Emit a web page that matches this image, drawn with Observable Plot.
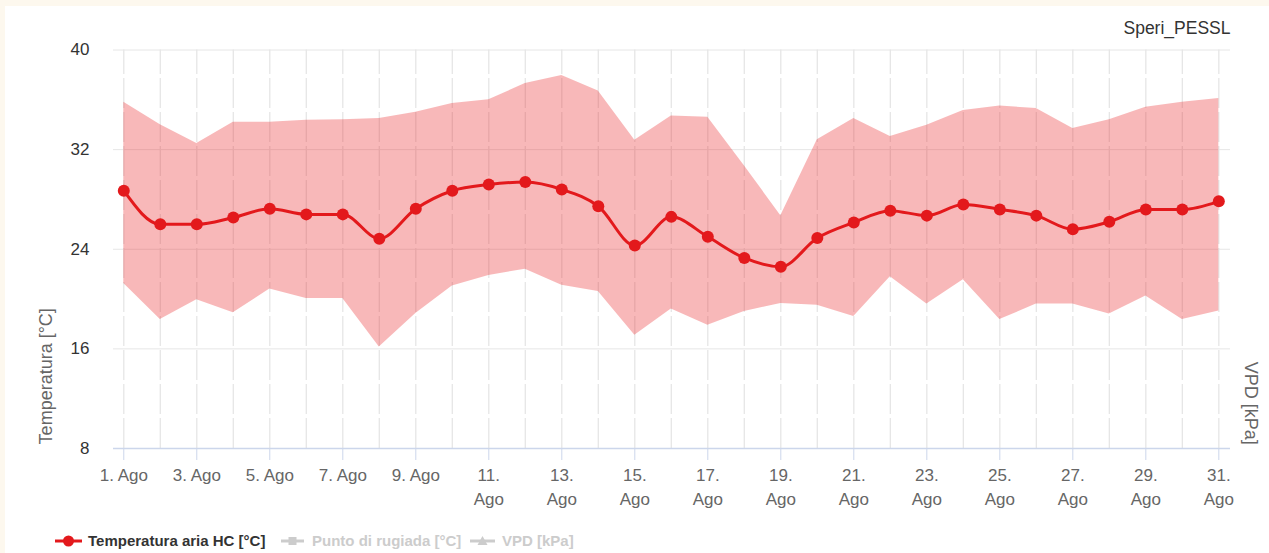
<!DOCTYPE html>
<html>
<head>
<meta charset="utf-8">
<script src="https://cdn.jsdelivr.net/npm/d3@7"></script>
<script src="https://cdn.jsdelivr.net/npm/@observablehq/plot@0.6"></script>
<style>
  html, body { margin: 0; padding: 0; width: 1269px; height: 553px; overflow: hidden; background: #fdf8ee; font-family: "Liberation Sans", Arial, sans-serif; }
  #panel { position: absolute; left: 5px; top: 6px; right: 0; bottom: 0; background: #ffffff; }
  #chart { position: absolute; left: 0; top: 0; }
  .lg { position: absolute; font-size: 15px; font-weight: bold; line-height: 16px; white-space: nowrap; }
  .mk { position: absolute; }
</style>
</head>
<body>
<div id="panel"></div>
<div id="chart"></div>
<div id="legend"></div>
<script>
// ---- data ----
const days = [1,2,3,4,5,6,7,8,9,10,11,12,13,14,15,16,17,18,19,20,21,22,23,24,25,26,27,28,29,30,31];
const tempMean = [28.7,26.0,26.0,26.55,27.25,26.8,26.8,24.85,27.25,28.7,29.2,29.4,28.8,27.45,24.3,26.6,25.0,23.3,22.6,24.9,26.15,27.1,26.7,27.6,27.2,26.7,25.6,26.2,27.2,27.2,27.85];
const tempMax  = [35.8,34.0,32.5,34.2,34.2,34.35,34.4,34.5,35.0,35.7,36.0,37.3,37.95,36.7,32.75,34.7,34.6,30.7,26.7,32.8,34.5,33.05,33.95,35.15,35.5,35.3,33.7,34.4,35.4,35.8,36.1];
const tempMin  = [21.25,18.35,19.95,18.9,20.8,20.05,20.05,16.15,18.85,21.05,21.9,22.4,21.1,20.6,17.1,19.2,17.9,19.0,19.65,19.5,18.6,21.8,19.6,21.55,18.35,19.6,19.6,18.8,20.25,18.35,19.05];
const labelDays = [1,3,5,7,9,11,13,15,17,19,21,23,25,27,29,31];
const monthName = "Ago";
const yTicks = [8,16,24,32,40];
const titleText = "Speri_PESSL";
const yLabel = "Temperatura [°C]";
const y2Label = "VPD [kPa]";
const legendItems = ["Temperatura aria HC [°C]", "Punto di rugiada [°C]", "VPD [kPa]"];

const rows = days.map((d, i) => ({day: d, mean: tempMean[i], max: tempMax[i], min: tempMin[i]}));

const red = "#e3191c";
const chart = Plot.plot({
  width: 1269,
  height: 520,
  marginLeft: 113,
  marginRight: 39,
  marginTop: 49.5,
  marginBottom: 72,
  style: {background: "transparent", fontFamily: "Liberation Sans, Arial, sans-serif"},
  x: {domain: [0.718, 31.32]},
  y: {domain: [8, 40]},
  marks: [
    Plot.ruleY(yTicks.filter(t => t !== 8), {y: d => d, stroke: "#e6e6e6", strokeWidth: 1}),
    Plot.ruleX(days, {x: d => d, y1: 8, y2: 40, stroke: "#e6e6e6", strokeWidth: 1.3, strokeDasharray: "30,4"}),
    Plot.areaY(rows, {x: "day", y1: "min", y2: "max", fill: "#e8191c", fillOpacity: 0.31}),
    Plot.ruleY([8], {y: d => d, stroke: "#ccd6eb", strokeWidth: 1.5}),
    Plot.axisX({ticks: labelDays, tickSize: 12, stroke: "#ccd6eb", fill: "none", label: null, tickFormat: () => ""}),
    Plot.text(labelDays, {
      x: d => d, frameAnchor: "bottom", lineAnchor: "top", dy: 16,
      text: d => d < 10 ? `${d}. ${monthName}` : `${d}.\n${monthName}`,
      fontSize: 17, fill: "#666", lineHeight: 1.4
    }),
    Plot.axisY({ticks: yTicks, tickSize: 0, tickPadding: 24, fontSize: 17, fill: "#333", label: null}),
    Plot.text([yLabel], {text: d => d, frameAnchor: "left", textAnchor: "middle", lineAnchor: "middle", dx: -67, dy: 127, rotate: -90, fontSize: 18, fill: "#666"}),
    Plot.text([y2Label], {text: d => d, frameAnchor: "right", textAnchor: "middle", lineAnchor: "middle", dx: 20, dy: 154, rotate: 90, fontSize: 18, fill: "#666"}),
    Plot.text([titleText], {text: d => d, frameAnchor: "top-right", textAnchor: "end", lineAnchor: "middle", dy: -21.5, fontSize: 17.5, fill: "#333"}),
    Plot.line(rows, {x: "day", y: "mean", stroke: red, strokeWidth: 3, curve: "monotone-x"}),
    Plot.dot(rows, {x: "day", y: "mean", r: 6, fill: red})
  ]
});
document.getElementById("chart").appendChild(chart);

// ---- legend (below the svg) ----
const lg = document.getElementById("legend");
lg.innerHTML = `
  <svg class="mk" style="left:55px;top:533px" width="28" height="16">
    <line x1="0" y1="8" x2="27" y2="8" stroke="${red}" stroke-width="3"/>
    <circle cx="13.5" cy="8" r="5.5" fill="${red}"/>
  </svg>
  <div class="lg" style="left:88px;top:533px;color:#333">${legendItems[0]}</div>
  <svg class="mk" style="left:281px;top:533px" width="24" height="16">
    <line x1="0" y1="8" x2="23" y2="8" stroke="#cccccc" stroke-width="3"/>
    <rect x="7.5" y="4" width="8" height="8" fill="#cccccc"/>
  </svg>
  <div class="lg" style="left:312px;top:533px;color:#cccccc">${legendItems[1]}</div>
  <svg class="mk" style="left:470px;top:533px" width="26" height="16">
    <line x1="0" y1="8" x2="25" y2="8" stroke="#cccccc" stroke-width="3"/>
    <path d="M12.5 3 L17.5 12 L7.5 12 Z" fill="#cccccc"/>
  </svg>
  <div class="lg" style="left:502px;top:533px;color:#cccccc">${legendItems[2]}</div>
`;
</script>
</body>
</html>
